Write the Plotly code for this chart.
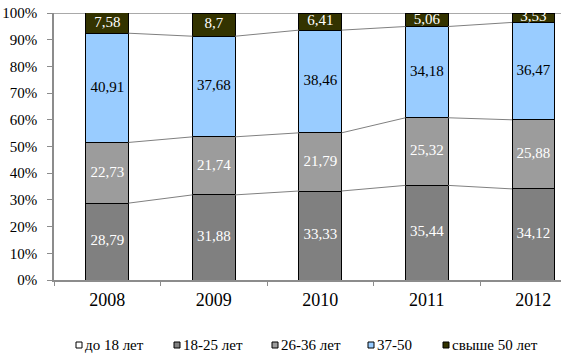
import plotly.graph_objects as go

years = ["2008", "2009", "2010", "2011", "2012"]
series_names = ["до 18 лет", "18-25 лет", "26-36 лет", "37-50", "свыше 50 лет"]
under_18 = [0, 0, 0, 0, 0]
age_18_25 = [28.79, 31.88, 33.33, 35.44, 34.12]
age_26_36 = [22.73, 21.74, 21.79, 25.32, 25.88]
age_37_50 = [40.91, 37.68, 38.46, 34.18, 36.47]
over_50 = [7.58, 8.7, 6.41, 5.06, 3.53]
y_ticks = [0, 10, 20, 30, 40, 50, 60, 70, 80, 90, 100]
y_tick_labels = [f"{t}%" for t in y_ticks]

series_values = [under_18, age_18_25, age_26_36, age_37_50, over_50]
colors = ["#ffffff", "#808080", "#9c9c9c", "#99ccff", "#333300"]
text_colors = ["black", "white", "white", "black", "white"]

FONT = "Liberation Serif"
BAR_W = 0.4
W, H = 561, 357
ML, MR, MT, MB = 54, 0, 13, 77
PW, PH = W - ML - MR, H - MT - MB
xs = list(range(len(years)))

fig = go.Figure()

# bars
for name, vals, col in zip(series_names, series_values, colors):
    fig.add_trace(go.Bar(
        x=xs, y=vals, name=name, width=BAR_W,
        marker=dict(color=col, line=dict(color="black", width=1)),
        showlegend=False, hoverinfo="name+y",
    ))

# series lines connecting segment tops between adjacent bars
cum = [0.0] * len(years)
for vals in series_values[1:4]:
    cum = [c + v for c, v in zip(cum, vals)]
    lx, ly = [], []
    for i in range(len(years) - 1):
        lx += [xs[i] + BAR_W / 2, xs[i + 1] - BAR_W / 2, None]
        ly += [cum[i], cum[i + 1], None]
    fig.add_trace(go.Scatter(x=lx, y=ly, mode="lines", line=dict(color="#808080", width=1),
                             showlegend=False, hoverinfo="skip"))

# data labels centred in each segment
base = [0.0] * len(years)
for vals, tcol in zip(series_values, text_colors):
    mids = [b + v / 2 for b, v in zip(base, vals)]
    labels = [str(v).replace(".", ",") for v in vals]
    if any(v > 0 for v in vals):
        fig.add_trace(go.Scatter(
            x=xs, y=mids, mode="text", text=labels,
            textfont=dict(family=FONT, size=15, color=tcol),
            showlegend=False, hoverinfo="skip", cliponaxis=False,
        ))
    base = [b + v for b, v in zip(base, vals)]

# custom legend (layout positions in pixels)
legend_left_px = [76, 174, 272, 368, 443]
legend_y_px = 345
SQ = 6
shapes = [dict(type="line", xref="paper", yref="y", x0=0, x1=1, y0=100, y1=100,
               line=dict(color="#8c8c8c", width=1.5), layer="below")]
annotations = []
for name, col, lx in zip(series_names, colors, legend_left_px):
    x0 = (lx - ML) / PW
    x1 = (lx + SQ - ML) / PW
    y0 = 1 - (legend_y_px + SQ / 2 - MT) / PH
    y1 = 1 - (legend_y_px - SQ / 2 - MT) / PH
    shapes.append(dict(type="rect", xref="paper", yref="paper", x0=x0, x1=x1, y0=y0, y1=y1,
                       fillcolor=col, line=dict(color="black", width=1)))
    annotations.append(dict(text=name, xref="paper", yref="paper",
                            x=(lx + SQ + 1 - ML) / PW, y=1 - (legend_y_px - MT) / PH,
                            xanchor="left", yanchor="middle", showarrow=False,
                            font=dict(family=FONT, size=15, color="black")))

fig.update_layout(
    barmode="stack",
    width=W, height=H,
    margin=dict(l=ML, r=MR, t=MT, b=MB, autoexpand=False),
    paper_bgcolor="white", plot_bgcolor="white",
    font=dict(family=FONT, size=15, color="black"),
    showlegend=False,
    shapes=shapes,
    annotations=annotations,
)

fig.update_xaxes(
    range=[-0.5, 4.26], tickmode="array", tickvals=xs, ticktext=years,
    ticks="", showgrid=False, zeroline=False,
    showline=True, linecolor="#8c8c8c", linewidth=1.5,
    tickfont=dict(family=FONT, size=18, color="black"), ticklabelstandoff=3,
    minor=dict(tickmode="array", tickvals=[-0.5, 0.5, 1.5, 2.5, 3.5], ticks="outside",
               ticklen=4, tickcolor="#8c8c8c", showgrid=False),
)
fig.update_yaxes(
    range=[0, 100], tickmode="array", tickvals=y_ticks, ticktext=y_tick_labels,
    ticks="outside", ticklen=5, tickcolor="#8c8c8c",
    showgrid=False, zeroline=False,
    showline=True, linecolor="#8c8c8c", linewidth=1.5,
    tickfont=dict(family=FONT, size=15, color="black"), ticklabelstandoff=7,
)

fig.write_html(
    "out.html",
    config={"displayModeBar": False},
    post_script="document.body.style.margin='0';document.body.style.overflow='hidden';",
)
